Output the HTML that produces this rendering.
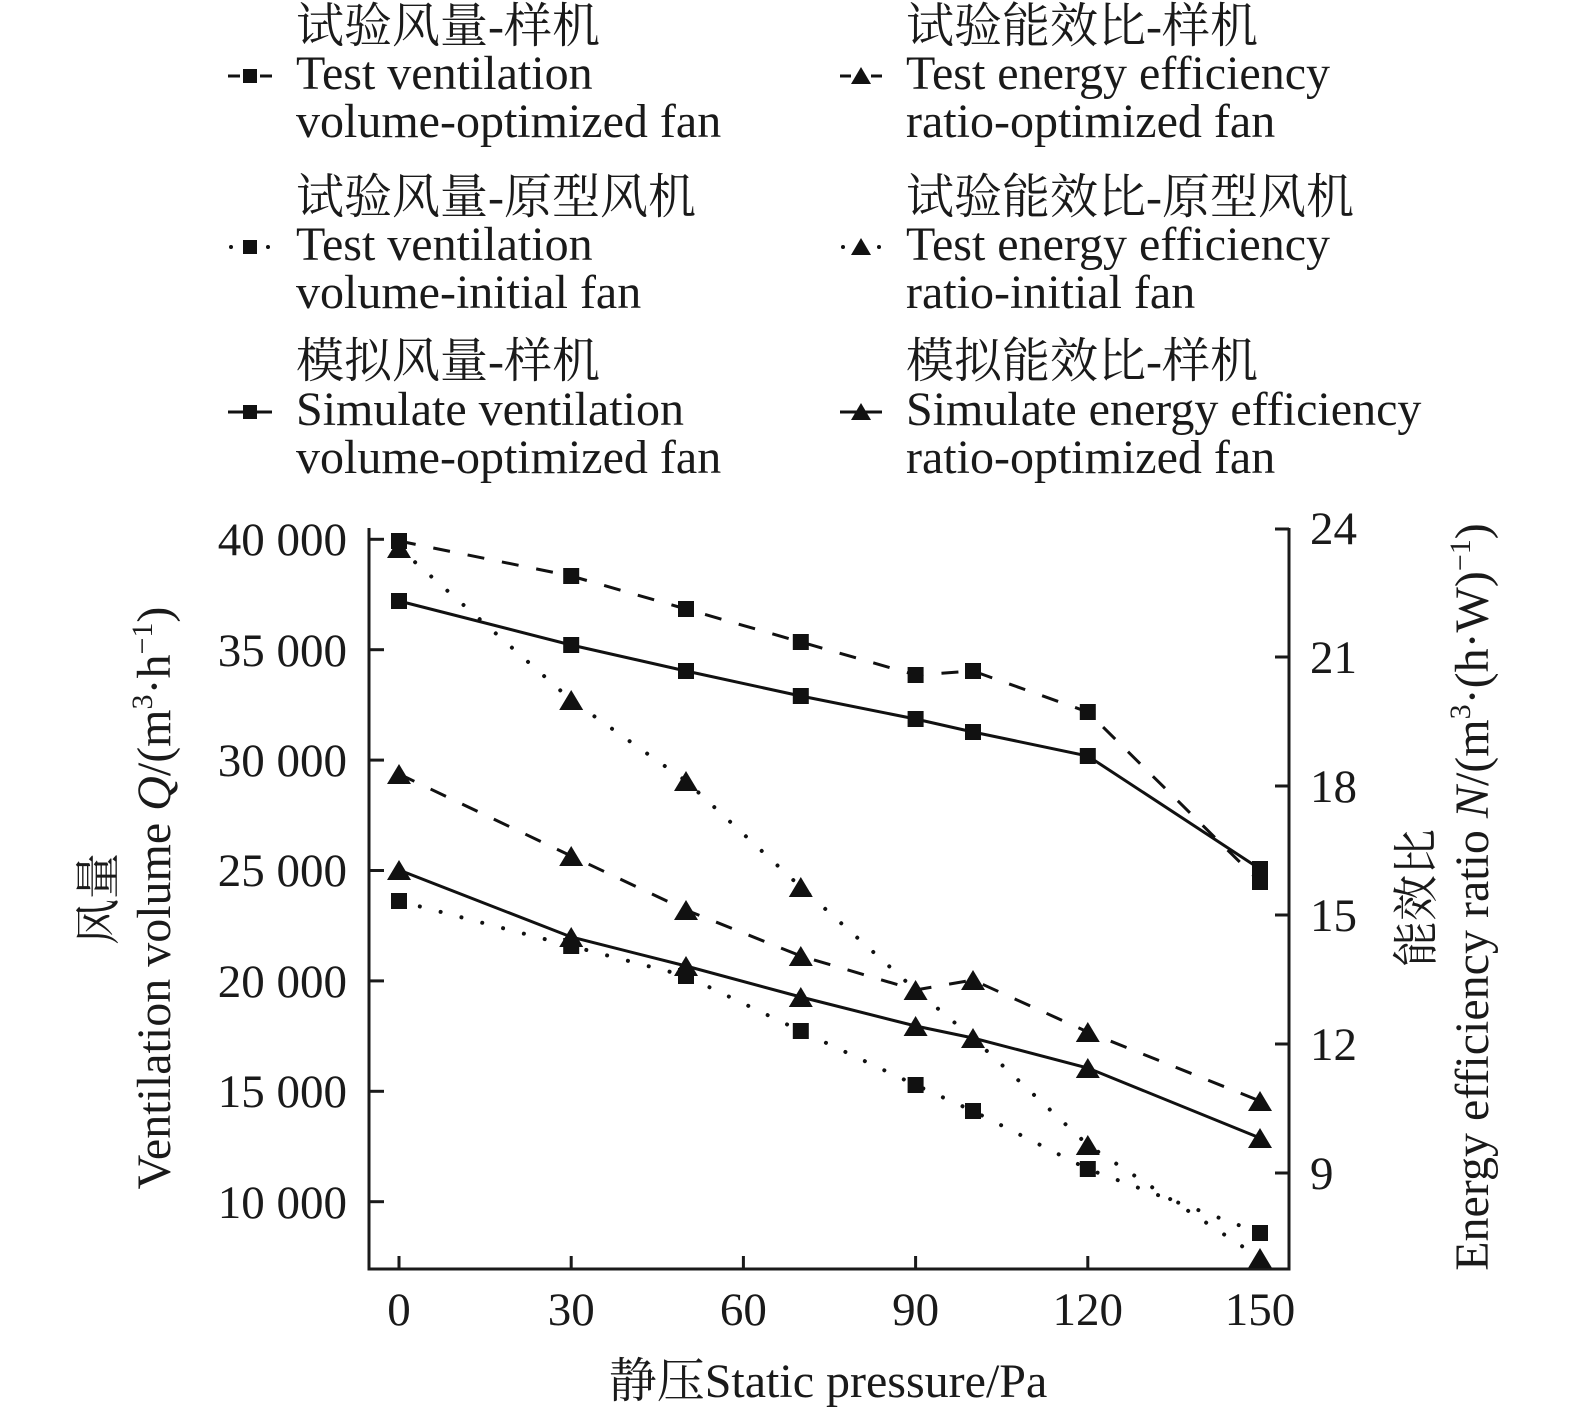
<!DOCTYPE html>
<html>
<head>
<meta charset="utf-8">
<style>
  html,body{margin:0;padding:0;background:#fff;}
  svg{display:block;}
  text{font-family:"Liberation Serif","Noto Serif CJK SC",serif;fill:#1a1a1a;}
</style>
</head>
<body>
<svg width="1575" height="1416" viewBox="0 0 1575 1416" xmlns="http://www.w3.org/2000/svg">
  <rect width="1575" height="1416" fill="#fff"/>

  <!-- Legend text -->
  <g font-size="48">
    <text x="296" y="42">试验风量-样机</text>
    <text x="296" y="89">Test ventilation</text>
    <text x="296" y="137">volume-optimized fan</text>
    <text x="296" y="213">试验风量-原型风机</text>
    <text x="296" y="260">Test ventilation</text>
    <text x="296" y="308">volume-initial fan</text>
    <text x="296" y="377">模拟风量-样机</text>
    <text x="296" y="425">Simulate ventilation</text>
    <text x="296" y="473">volume-optimized fan</text>

    <text x="906" y="42">试验能效比-样机</text>
    <text x="906" y="89">Test energy efficiency</text>
    <text x="906" y="137">ratio-optimized fan</text>
    <text x="906" y="213">试验能效比-原型风机</text>
    <text x="906" y="260">Test energy efficiency</text>
    <text x="906" y="308">ratio-initial fan</text>
    <text x="906" y="377">模拟能效比-样机</text>
    <text x="906" y="425">Simulate energy efficiency</text>
    <text x="906" y="473">ratio-optimized fan</text>
  </g>

  <!-- Legend markers -->
  <g fill="#111" stroke="#111">
    <!-- left col -->
    <line x1="228" y1="76" x2="240" y2="76" stroke-width="3"/>
    <line x1="260" y1="76" x2="272" y2="76" stroke-width="3"/>
    <rect x="243" y="69" width="14" height="14" stroke="none"/>

    <circle cx="231" cy="247" r="2" stroke="none"/>
    <circle cx="268" cy="247" r="2" stroke="none"/>
    <rect x="243" y="240" width="14" height="14" stroke="none"/>

    <line x1="228" y1="412" x2="272" y2="412" stroke-width="3"/>
    <rect x="243" y="405" width="14" height="14" stroke="none"/>

    <!-- right col -->
    <line x1="840" y1="76" x2="851" y2="76" stroke-width="3"/>
    <line x1="871" y1="76" x2="882" y2="76" stroke-width="3"/>
    <path d="M861,67 L871,84 L851,84 Z" stroke="none"/>

    <circle cx="843" cy="247" r="2" stroke="none"/>
    <circle cx="879" cy="247" r="2" stroke="none"/>
    <path d="M861,238 L871,255 L851,255 Z" stroke="none"/>

    <line x1="840" y1="412" x2="882" y2="412" stroke-width="3"/>
    <path d="M861,403 L871,420 L851,420 Z" stroke="none"/>
  </g>

  <!-- Axes -->
  <g stroke="#1a1a1a" stroke-width="3" fill="none">
    <path d="M369,528 L369,1269 L1289,1269 L1289,528"/>
    <!-- left ticks -->
    <line x1="369" y1="539.3" x2="384" y2="539.3"/>
    <line x1="369" y1="649.7" x2="384" y2="649.7"/>
    <line x1="369" y1="760.1" x2="384" y2="760.1"/>
    <line x1="369" y1="870.5" x2="384" y2="870.5"/>
    <line x1="369" y1="980.9" x2="384" y2="980.9"/>
    <line x1="369" y1="1091.3" x2="384" y2="1091.3"/>
    <line x1="369" y1="1201.7" x2="384" y2="1201.7"/>
    <!-- right ticks -->
    <line x1="1275" y1="529" x2="1289" y2="529"/>
    <line x1="1275" y1="657" x2="1289" y2="657"/>
    <line x1="1275" y1="786" x2="1289" y2="786"/>
    <line x1="1275" y1="915" x2="1289" y2="915"/>
    <line x1="1275" y1="1044" x2="1289" y2="1044"/>
    <line x1="1275" y1="1173" x2="1289" y2="1173"/>
    <!-- bottom ticks -->
    <line x1="399" y1="1269" x2="399" y2="1256"/>
    <line x1="571.2" y1="1269" x2="571.2" y2="1256"/>
    <line x1="743.4" y1="1269" x2="743.4" y2="1256"/>
    <line x1="915.6" y1="1269" x2="915.6" y2="1256"/>
    <line x1="1087.8" y1="1269" x2="1087.8" y2="1256"/>
    <line x1="1260" y1="1269" x2="1260" y2="1256"/>
  </g>

  <!-- Tick labels -->
  <g font-size="47" text-anchor="end">
    <text x="347" y="555">40 000</text>
    <text x="347" y="666">35 000</text>
    <text x="347" y="776">30 000</text>
    <text x="347" y="886">25 000</text>
    <text x="347" y="997">20 000</text>
    <text x="347" y="1107">15 000</text>
    <text x="347" y="1218">10 000</text>
  </g>
  <g font-size="47">
    <text x="1310" y="544">24</text>
    <text x="1310" y="673">21</text>
    <text x="1310" y="802">18</text>
    <text x="1310" y="931">15</text>
    <text x="1310" y="1060">12</text>
    <text x="1310" y="1189">9</text>
  </g>
  <g font-size="47" text-anchor="middle">
    <text x="399" y="1325">0</text>
    <text x="571.2" y="1325">30</text>
    <text x="743.4" y="1325">60</text>
    <text x="915.6" y="1325">90</text>
    <text x="1087.8" y="1325">120</text>
    <text x="1260" y="1325">150</text>
  </g>

  <!-- Axis titles -->
  <text x="828" y="1397" font-size="48" text-anchor="middle">静压Static pressure/Pa</text>

  <text transform="translate(114,899) rotate(-90)" font-size="46" text-anchor="middle">风量</text>
  <text transform="translate(170,898) rotate(-90)" font-size="48" text-anchor="middle">Ventilation volume <tspan font-style="italic">Q</tspan>/(m<tspan font-size="30" dy="-18">3</tspan><tspan dy="18">·h</tspan><tspan font-size="30" dy="-18">−1</tspan><tspan dy="18">)</tspan></text>

  <text transform="translate(1432,898) rotate(-90)" font-size="46" text-anchor="middle">能效比</text>
  <text transform="translate(1488,897) rotate(-90)" font-size="48" text-anchor="middle">Energy efficiency ratio <tspan font-style="italic">N</tspan>/(m<tspan font-size="30" dy="-18">3</tspan><tspan dy="18">·(h·W)</tspan><tspan font-size="30" dy="-18">−1</tspan><tspan dy="18">)</tspan></text>

  <!-- Series lines -->
  <g fill="none" stroke="#111" stroke-width="3">
    <!-- A: test ventilation optimized (dashed) -->
    <polyline stroke-dasharray="17 18" points="399,541 571.2,576 686,609 800.8,642 915.6,675 973,671 1087.8,712 1260,882"/>
    <!-- B: simulate ventilation optimized (solid) -->
    <polyline points="399,601 571.2,645 686,671 800.8,696 915.6,719 973,732 1087.8,756 1260,869"/>
    <!-- C: test ventilation initial (dotted) -->
    <polyline stroke-width="4" stroke-linecap="round" stroke-dasharray="0.01 21.5" points="399,901 571.2,946 686,976 800.8,1031 915.6,1085 973,1111 1087.8,1169 1260,1233"/>
    <!-- D: test EER optimized (dashed) -->
    <polyline stroke-dasharray="17 18" points="399,774 571.2,856 686,910 800.8,956 915.6,990 973,980 1087.8,1032 1260,1101"/>
    <!-- E: simulate EER optimized (solid) -->
    <polyline points="399,870 571.2,937 686,966 800.8,997 915.6,1026 973,1038 1087.8,1068 1260,1138"/>
    <!-- F: test EER initial (dotted) -->
    <polyline stroke-width="4" stroke-linecap="round" stroke-dasharray="0.01 21.5" points="399,548 571.2,700 686,781 800.8,887 915.6,990 973,1038 1087.8,1145 1260,1258"/>
  </g>

  <!-- Markers -->
  <g fill="#111">
    <!-- F triangles -->
    <path d="M399,538 L411,558 L387,558Z"/>
    <path d="M571.2,690 L583.2,710 L559.2,710Z"/>
    <path d="M686,771 L698,791 L674,791Z"/>
    <path d="M800.8,877 L812.8,897 L788.8,897Z"/>
    <path d="M1087.8,1135 L1099.8,1155 L1075.8,1155Z"/>
    <path d="M1260,1248 L1272,1268 L1248,1268Z"/>

    <!-- A squares -->
    <rect x="391" y="533" width="16" height="16"/>
    <rect x="563.2" y="568" width="16" height="16"/>
    <rect x="678" y="601" width="16" height="16"/>
    <rect x="792.8" y="634" width="16" height="16"/>
    <rect x="907.6" y="667" width="16" height="16"/>
    <rect x="965" y="663" width="16" height="16"/>
    <rect x="1079.8" y="704" width="16" height="16"/>
    <rect x="1252" y="874" width="16" height="16"/>

    <!-- B squares -->
    <rect x="391" y="593" width="16" height="16"/>
    <rect x="563.2" y="637" width="16" height="16"/>
    <rect x="678" y="663" width="16" height="16"/>
    <rect x="792.8" y="688" width="16" height="16"/>
    <rect x="907.6" y="711" width="16" height="16"/>
    <rect x="965" y="724" width="16" height="16"/>
    <rect x="1079.8" y="748" width="16" height="16"/>
    <rect x="1252" y="861" width="16" height="16"/>

    <!-- C squares -->
    <rect x="391" y="893" width="16" height="16"/>
    <rect x="563.2" y="938" width="16" height="16"/>
    <rect x="678" y="968" width="16" height="16"/>
    <rect x="792.8" y="1023" width="16" height="16"/>
    <rect x="907.6" y="1077" width="16" height="16"/>
    <rect x="965" y="1103" width="16" height="16"/>
    <rect x="1079.8" y="1161" width="16" height="16"/>
    <rect x="1252" y="1225" width="16" height="16"/>

    <!-- D triangles -->
    <path d="M399,764 L411,784 L387,784Z"/>
    <path d="M571.2,846 L583.2,866 L559.2,866Z"/>
    <path d="M686,900 L698,920 L674,920Z"/>
    <path d="M800.8,946 L812.8,966 L788.8,966Z"/>
    <path d="M915.6,980 L927.6,1000 L903.6,1000Z"/>
    <path d="M973,970 L985,990 L961,990Z"/>
    <path d="M1087.8,1022 L1099.8,1042 L1075.8,1042Z"/>
    <path d="M1260,1091 L1272,1111 L1248,1111Z"/>

    <!-- E triangles -->
    <path d="M399,860 L411,880 L387,880Z"/>
    <path d="M571.2,927 L583.2,947 L559.2,947Z"/>
    <path d="M686,956 L698,976 L674,976Z"/>
    <path d="M800.8,987 L812.8,1007 L788.8,1007Z"/>
    <path d="M915.6,1016 L927.6,1036 L903.6,1036Z"/>
    <path d="M973,1028 L985,1048 L961,1048Z"/>
    <path d="M1087.8,1058 L1099.8,1078 L1075.8,1078Z"/>
    <path d="M1260,1128 L1272,1148 L1248,1148Z"/>
  </g>
</svg>
</body>
</html>
